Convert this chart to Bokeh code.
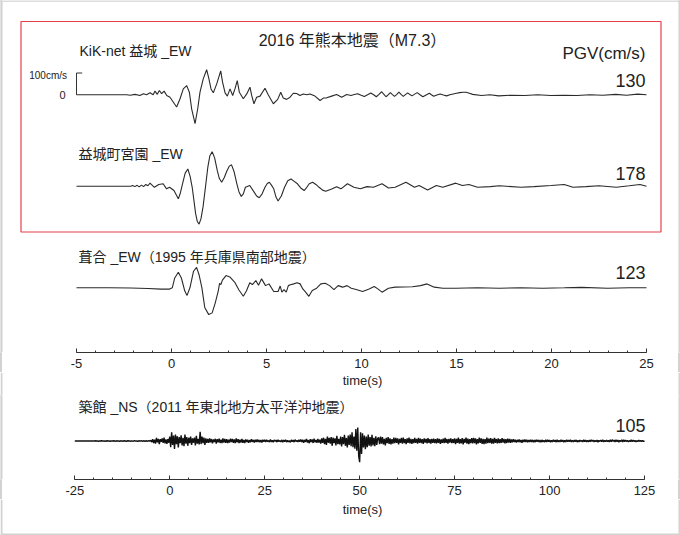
from bokeh.plotting import figure
from bokeh.models import Range1d, Label, FixedTicker
from bokeh.layouts import column
from bokeh.embed import file_html
from bokeh.resources import INLINE

# ---------------- data ----------------
TITLE = "2016 年熊本地震（M7.3）"
NAMES = ["KiK-net 益城 _EW", "益城町宮園 _EW", "葺合 _EW（1995 年兵庫県南部地震）", "築館 _NS（2011 年東北地方太平洋沖地震）"]
PGV = ["130", "178", "123", "105"]
PGV_HEAD = "PGV(cm/s)"
SCALE_LABEL = "100cm/s"
SCALE_VALUE = 100
AXIS_TITLE = "time(s)"

# trace 1: KiK-net Mashiki EW (time s, velocity cm/s)
T1 = [-5.0, -2.36, -2.18, -1.92, -1.66, -1.48, -1.31, -1.13, -0.96, -0.87, -0.75, -0.64, -0.52, -0.39, -0.25,
      -0.08, 0.09, 0.27, 0.45, 0.62, 0.80, 0.94, 1.06, 1.24, 1.38, 1.50, 1.67, 1.85, 1.97, 2.08, 2.20, 2.38,
      2.59, 2.69, 2.82, 2.94, 3.08, 3.22, 3.34, 3.46, 3.57, 3.78, 3.96, 4.13, 4.22, 4.34, 4.48, 4.66, 4.92,
      5.09, 5.36, 5.59, 5.75, 5.88, 6.06, 6.24, 6.41, 6.59, 6.76, 6.94, 7.12, 7.29, 7.55, 7.82, 7.99, 8.17,
      8.43, 8.69, 8.96, 9.22,
      9.45, 9.62, 9.80, 9.98, 10.15, 10.32, 10.49, 10.64, 10.78, 10.92, 11.06, 11.18, 11.29, 11.40, 11.52,
      11.63, 11.74, 11.86, 11.97, 12.08, 12.20, 12.31, 12.43, 12.55, 12.66, 12.80, 12.93, 13.08, 13.23, 13.40,
      13.57, 13.68, 13.80, 13.97, 14.14, 14.31, 14.48, 14.65, 14.83, 15.00, 15.17, 15.34, 15.51, 15.68, 15.85,
      16.31, 16.76, 17.22, 17.90, 18.59, 19.27, 19.96, 20.64, 21.33, 22.02, 22.70, 23.38, 23.95, 24.53, 25.0]
V1 = [0, 0, -2, 2, -3, 5, 0, 9, 0, 17, 2, 20, 5, 17, -3,
      -11, -33, -56, -18, 27, 42, 12, -64, -132, -64, 12, 73, 115, 73, 27, 9, 50,
      110, 57, 9, -6, 27, -3, 27, 65, 12, -18, 4, 35, -3, -41, -11, -6, 30,
      0, -41, -21, 12, -15, -21, -11, 7, 6, -3, 4, 0, 4, -6, -26, -15, -14,
      -6, 1, -11, 1,
      -3, 1, 5, -2, -8, 0, 8, 0, -9, 2, 14, 2, -9, 0, 10,
      1, -7, 2, 12, 2, -7, 1, 9, 1, -5, 3, 10, 0, -9, -1,
      7, 0, -7, -1, 4, -1, -5, 0, 4, 7, 10, 12, 12, 7, 2,
      -3, 0, -5, -2, -3, 0, -3, -2, -3, 0, -2, 2, -2, 3, 0]

# trace 2: Mashiki town Miyazono EW
T2 = [-5.0, -2.15, -2.04, -1.93, -1.81, -1.70, -1.58, -1.47, -1.35, -1.24, -1.13, -0.90, -0.67, -0.44, -0.26,
      -0.10, 0.13, 0.36, 0.47, 0.58, 0.72, 0.86, 0.98, 1.09, 1.18, 1.27, 1.36, 1.45, 1.55, 1.66, 1.78, 1.91,
      2.02, 2.14, 2.27, 2.41, 2.52, 2.64, 2.78, 2.92, 3.04, 3.16, 3.30, 3.44, 3.55, 3.67, 3.78, 3.89, 4.12,
      4.35, 4.48, 4.62, 4.77, 4.92, 5.04, 5.15, 5.26, 5.38, 5.50, 5.61, 5.78, 5.95, 6.12, 6.29, 6.46, 6.63,
      6.80, 6.98, 7.12, 7.25, 7.43, 7.60, 7.77, 7.95, 8.12, 8.46, 8.69, 8.92, 9.26, 9.60, 9.94, 10.29,
      10.63, 11.08, 11.42, 11.77, 12.34, 12.79, 13.03, 13.48, 13.94, 14.28, 14.96, 15.31, 15.65, 16.11,
      16.79, 17.25, 18.39, 19.07, 19.98, 20.67, 21.13, 21.81, 22.50, 23.41, 24.09, 24.66, 25.0]
V2 = [0, 0, 3, -2, 4, -3, 5, -2, 8, 2, 14, -5, 8, 11, -12,
      -5, -20, -58, -30, 11, 60, 79, 45, -5, -65, -126, -162, -174, -150, -95, -10, 86,
      140, 158, 130, 71, 35, 18, 40, 71, 92, 98, 65, 11, -25, -47, -35, -5, 3,
      -27, -45, -53, -35, -5, 12, 18, 5, -12, -50, -68, -45, -5, 25, 33, 22, 11,
      -8, -20, -5, 11, 18, 8, -5, -18, -23, -12, -2, -12, 11, -5, -12, -2,
      -5, 11, -8, -5, 18, -5, 3, -17, 3, -5, 14, 3, 8, -5,
      -2, 2, -5, -2, 3, 8, -5, -2, 2, -5, 2, 8, 0]

# trace 3: Fukiai EW (1995 Hyogo-ken Nanbu)
T3 = [-5.0, -3.29, -2.15, -1.24, -0.55, -0.10, 0.04, 0.17, 0.36, 0.52, 0.70, 0.82, 0.97, 1.16, 1.32, 1.45,
      1.60, 1.75, 1.96, 2.14, 2.30, 2.46, 2.53, 2.60, 2.68, 2.87, 3.07, 3.33, 3.55, 3.78, 3.94, 4.12, 4.26,
      4.44, 4.58, 4.74, 4.95, 5.13, 5.38, 5.61, 5.72, 5.81, 5.92, 6.04, 6.15, 6.26, 6.43, 6.61, 6.77, 6.91,
      7.06, 7.23, 7.41, 7.64, 7.86, 8.09, 8.32, 8.55, 8.77, 9.01, 9.24, 9.46, 9.72, 10.06, 10.40, 10.67,
      10.86, 11.08, 11.42, 11.77, 12.68, 13.11, 13.45, 13.83, 14.28, 14.96, 16.11, 17.25, 18.39, 19.53,
      20.67, 21.58, 22.95, 24.09, 25.0]
V3 = [0, 0, -1, -3, -6, -6, 0, 45, 71, 45, -15, -35, 0, 76, 94, 60,
      0, -90, -123, -115, -70, -15, 20, 15, 35, 56, 50, 25, -10, -39, -15, 23, 15,
      33, 12, 41, 10, 18, -17, -17, 8, -20, -8, -20, 10, 14, 18, 23, 18, -5,
      -20, -39, -12, -2, 18, 21, 10, -8, 10, 3, 10, -2, -8, -17, -5, 6,
      -5, -20, -2, 3, 5, 10, 18, 3, -2, -2, 0, -2, 0, -2,
      0, 2, -2, 0, 0]

# trace 4: Tsukidate NS (2011 Tohoku), sampled every 0.25 s from -25 s (one row = 5 s)
T4_START = -25.0
T4_STEP = 0.25
V4 = [0, 0, 0, 0, 0, 0, 0, 0, 0, 0, 0, 0, 0, 0, 0, 0, 0, 0, 0, 0,
      0, 0, 1, 0, 0, -1, 0, 0, 1, 0, 0, 0, -1, 0, 1, 0, 0, -1, 0, 0,
      0, 1, 0, -1, 1, 0, 0, -1, 0, 1, -1, 0, 1, 0, -1, 0, 1, 0, 0, -1,
      1, -1, 0, 2, -1, 1, -2, 0, 1, -1, 2, -1, 0, 1, -2, 1, 0, -1, 2, -1,
      3, -5, 8, -10, 6, -12, 14, -6, 10, -14, 8, -4, 12, -9, 15, -11, 7, -13, 9, -8,
      20, -28, 40, -18, 25, -36, 30, -15, 22, -30, 18, -10, 26, -20, 14, -24, 30, -12, 18, -22,
      15, -10, 20, -18, 12, -8, 16, -20, 24, -12, 10, -16, 42, -14, 20, -10, 16, -18, 12, -9,
      10, -8, 12, -6, 9, -11, 7, -5, 10, -12, 8, -6, 11, -9, 6, -10, 12, -7, 9, -8,
      8, -10, 6, -7, 11, -5, 9, -8, 7, -10, 12, -6, 8, -9, 6, -7, 10, -8, 5, -9,
      7, -5, 6, -8, 4, -6, 8, -4, 5, -7, 6, -5, 7, -4, 5, -6, 4, -7, 6, -3,
      5, -4, 6, -3, 2, -5, 7, -4, 3, -6, 5, -2, 4, -5, 6, -3, 2, -4, 5, -6,
      4, -3, 6, -5, 3, -4, 2, -6, 5, -3, 4, -5, 6, -2, 3, -4, 5, -3, 7, -5,
      6, -8, 5, -4, 9, -7, 4, -10, 8, -5, 7, -9, 11, -6, 5, -8, 10, -7, 6, -12,
      12, -9, 15, -14, 10, -18, 20, -8, 14, -12, 18, -22, 16, -10, 12, -20, 24, -14, 10, -16,
      20, -25, 18, -15, 28, -22, 14, -30, 25, -18, 30, -24, 40, -28, 20, -35, 55, -45, 62, -70,
      -97, 40, -60, 35, -30, 25, -38, 20, -28, 30, -22, 18, -25, 28, -20, 15, -24, 22, -18, 12,
      16, -14, 20, -12, 18, -16, 10, -20, 14, -10, 18, -13, 12, -15, 9, -12, 16, -10, 14, -8,
      12, -15, 10, -8, 14, -12, 16, -10, 8, -14, 12, -9, 15, -11, 10, -13, 8, -10, 14, -9,
      10, -12, 14, -8, 11, -10, 9, -13, 12, -7, 10, -11, 13, -9, 8, -12, 10, -8, 11, -10,
      9, -11, 12, -8, 10, -13, 7, -9, 11, -10, 14, -8, 9, -12, 10, -7, 12, -10, 8, -9,
      12, -14, 10, -9, 15, -12, 8, -11, 13, -15, 10, -8, 16, -12, 11, -14, 9, -10, 13, -11,
      14, -10, 12, -15, 9, -11, 16, -9, 12, -13, 10, -14, 8, -12, 15, -10, 11, -9, 13, -12,
      10, -12, 14, -8, 9, -11, 12, -10, 8, -9, 13, -7, 10, -11, 8, -9, 11, -7, 9, -8,
      7, -6, 8, -5, 6, -7, 5, -4, 7, -6, 5, -8, 6, -5, 7, -4, 6, -6, 5, -5,
      6, -4, 5, -6, 4, -5, 6, -3, 5, -5, 4, -6, 5, -4, 3, -5, 6, -4, 5, -3,
      4, -5, 3, -4, 5, -3, 4, -5, 6, -4, 3, -4, 5, -3, 4, -5, 3, -4, 5, -3,
      4, -3, 5, -4, 3, -4, 4, -3, 5, -5, 3, -4, 4, -2, 3, -4, 5, -3, 4, -4,
      3, -4, 4, -3, 5, -2, 4, -4, 3, -3, 4, -5, 3, -2, 4, -3, 5, -4, 3, -3,
      4, -3, 3, -4, 5, -3, 6, -2, 4, -4, 5, -3, 4, -5, 3, -2, 5, -4, 6, -3,
      4, -2, 3, -4, 2, -3, 5, -3, 4, -2, 3, -4, 2, -3, 4, -2, 3, -3, 2, -2,
      0]
T4 = [T4_START + i * T4_STEP for i in range(len(V4))]

TICKS_A = [-5, 0, 5, 10, 15, 20, 25]
TICK_LABELS_A = ["-5", "0", "5", "10", "15", "20", "25"]
MINOR_A = list(range(-5, 26))
TICKS_B = [-25, 0, 25, 50, 75, 100, 125]
TICK_LABELS_B = ["-25", "0", "25", "50", "75", "100", "125"]
MINOR_B = list(range(-25, 126, 5))

# ---------------- layout constants (page pixels, page origin at 0,0) ----------------
W = 680
PX_L, PX_R = 0, 680
K = 0.218  # px per cm/s
FONT = "Liberation Sans, Noto Sans CJK JP"
INK = "#222222"
TRACE = "#2a2a2a"
FRAME_GREY = "#d2d2d2"
EDGE_BG = ("linear-gradient(to right, #d2d2d2 0px, #d2d2d2 2px, #ffffff 2px, "
           "#ffffff 678px, #d2d2d2 678px, #d2d2d2 680px)")

def vrange(base, top, bot):
    return Range1d(start=-(bot - base) / K, end=(base - top) / K)

def xrange_for(t_left, px_left, t_right, px_right):
    s = (px_right - px_left) / (t_right - t_left)
    return Range1d(start=t_left - (px_left - PX_L) / s, end=t_right + (PX_R - px_right) / s)

def make_fig(top, frame_bot, bot, xr=None, axis=True):
    if xr is None:
        xr = Range1d(PX_L, PX_R)
    p = figure(width=W, height=bot - top, output_backend="svg", toolbar_location=None,
               x_range=xr, y_range=Range1d(frame_bot, top), title=None,
               x_axis_location="below" if axis else None, y_axis_location=None,
               min_border_left=0, min_border_right=0, min_border_top=0,
               min_border_bottom=bot - frame_bot)
    p.extra_x_ranges = {"px": Range1d(PX_L, PX_R)}
    p.grid.visible = False
    p.outline_line_color = None
    p.background_fill_color = "white"
    if axis:
        # transparent border so the page-frame edge stripes show behind the axis area
        p.border_fill_color = None
        p.styles = {"background": EDGE_BG}
    else:
        p.border_fill_color = "white"
    return p

def side_frame(p, top, bot, with_top=False, with_bottom=False):
    # light grey page frame drawn inside a figure's plotting area
    xs0 = [1, 679]
    p.segment(x0=xs0, y0=[top, top], x1=xs0, y1=[bot, bot], x_range_name="px",
              line_color=FRAME_GREY, line_width=2)
    if with_top:
        p.segment(x0=[0], y0=[top + 0.5], x1=[680], y1=[top + 0.5], x_range_name="px",
                  line_color=FRAME_GREY, line_width=1.5)
    if with_bottom:
        p.segment(x0=[0], y0=[bot - 1], x1=[680], y1=[bot - 1], x_range_name="px",
                  line_color=FRAME_GREY, line_width=2)

def style_axis(ax, ticks, labels, minor, bounds):
    ax.ticker = FixedTicker(ticks=ticks, minor_ticks=minor)
    ax.major_label_overrides = {t: s for t, s in zip(ticks, labels)}
    ax.bounds = bounds
    ax.major_tick_in = 4
    ax.major_tick_out = 0
    ax.minor_tick_in = 2
    ax.minor_tick_out = 0
    ax.axis_line_color = "#333333"
    ax.major_tick_line_color = "#333333"
    ax.minor_tick_line_color = "#333333"
    ax.major_label_text_font = FONT
    ax.major_label_text_font_size = "13px"
    ax.major_label_text_color = INK
    ax.major_label_standoff = 6

def text(p, x, y, s, size, align="left"):
    p.add_layout(Label(x=x, y=y, text=s, x_range_name="px", text_font=FONT,
                       text_font_size=size, text_color=INK, text_align=align,
                       text_baseline="middle"))

# ---------------- figure A : Kumamoto + Kobe (page y 0..372, axis at 352) ----------------
pa = make_fig(0, 352, 372, xrange_for(-5, 76, 25, 646))
pa.extra_y_ranges = {"r1": vrange(94.3, 0, 352),
                     "r2": vrange(185.7, 0, 352),
                     "r3": vrange(287.3, 0, 352)}
style_axis(pa.xaxis[0], TICKS_A, TICK_LABELS_A, MINOR_A, (-5, 25))
side_frame(pa, 0, 352, with_top=True)

pa.quad(left=[20.5], right=[660.5], top=[21], bottom=[231.5], x_range_name="px",
        fill_color=None, line_color="#e5404a", line_width=1.2)

pa.line(T1, V1, y_range_name="r1", line_color=TRACE, line_width=1.1)
pa.line(T2, V2, y_range_name="r2", line_color=TRACE, line_width=1.1)
pa.line(T3, V3, y_range_name="r3", line_color=TRACE, line_width=1.1)

# scale bar of trace 1
pa.segment(x0=[-5, -5], y0=[0, SCALE_VALUE], x1=[-5, -4.7], y1=[SCALE_VALUE, SCALE_VALUE],
           y_range_name="r1", line_color="#333333", line_width=1)

text(pa, 352, 40, TITLE, "16px", "center")
text(pa, 79, 50, NAMES[0], "14px")
text(pa, 645, 53, PGV_HEAD, "17px", "right")
text(pa, 66.5, 74.5, SCALE_LABEL, "10px", "right")
text(pa, 65, 94, "0", "11px", "right")
text(pa, 645, 80, PGV[0], "18px", "right")
text(pa, 78, 153, NAMES[1], "14px")
text(pa, 645, 173, PGV[1], "18px", "right")
text(pa, 78, 256.7, NAMES[2], "14px")
text(pa, 645, 271.7, PGV[2], "18px", "right")

# axis title strip for figure A (page y 372..395)
pa2 = make_fig(372, 395, 395, axis=False)
side_frame(pa2, 372, 395)
text(pa2, 362, 380, AXIS_TITLE, "13px", "center")

# ---------------- figure B : Tohoku (page y 395..499, axis at 479) ----------------
pb = make_fig(395, 479, 499, xrange_for(-25, 74.3, 125, 644))
pb.extra_y_ranges = {"r4": vrange(440.5, 395, 479)}
style_axis(pb.xaxis[0], TICKS_B, TICK_LABELS_B, MINOR_B, (-25, 125))
side_frame(pb, 395, 479)
pb.line(T4, V4, y_range_name="r4", line_color="#111111", line_width=1.4)
text(pb, 78, 406.7, NAMES[3], "14px")
text(pb, 645, 425, PGV[3], "18px", "right")

# axis title strip for figure B (page y 499..535)
pb2 = make_fig(499, 535, 535, axis=False)
side_frame(pb2, 499, 535, with_bottom=True)
text(pb2, 362, 509, AXIS_TITLE, "13px", "center")

layout = column(pa, pa2, pb, pb2, spacing=0)
open("out.html", "w").write(file_html(layout, INLINE))
